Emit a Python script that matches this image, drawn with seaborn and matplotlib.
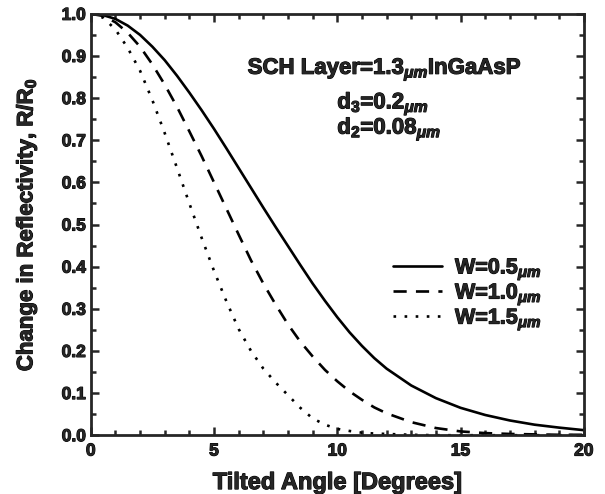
import matplotlib
matplotlib.use("Agg")
import matplotlib.pyplot as plt
import matplotlib.patheffects as pe
import seaborn as sns
import pandas as pd
from matplotlib.ticker import MultipleLocator

angle = [0, 0.5, 1, 1.5, 2, 2.5, 3, 3.5, 4, 4.5, 5, 5.5, 6, 6.5, 7, 7.5,
         8, 8.5, 9, 9.5, 10, 10.5, 11, 11.5, 12, 13, 14, 15, 16, 17, 18, 19, 20]

w05 = [1.000, 0.997, 0.988, 0.972, 0.950, 0.922, 0.890, 0.853, 0.813, 0.771,
       0.727, 0.681, 0.634, 0.587, 0.540, 0.494, 0.449, 0.404, 0.360, 0.319,
       0.280, 0.244, 0.212, 0.183, 0.158, 0.118, 0.088, 0.065, 0.048, 0.035,
       0.025, 0.018, 0.012]

w10 = [1.000, 0.995, 0.980, 0.955, 0.922, 0.880, 0.832, 0.779, 0.721, 0.662,
       0.600, 0.538, 0.476, 0.415, 0.360, 0.310, 0.263, 0.222, 0.187, 0.155,
       0.128, 0.104, 0.084, 0.066, 0.052, 0.031, 0.017, 0.009, 0.005, 0.003,
       0.002, 0.001, 0.001]

w15 = [1.000, 0.991, 0.963, 0.919, 0.865, 0.795, 0.717, 0.634, 0.550, 0.468,
       0.390, 0.318, 0.252, 0.200, 0.158, 0.125, 0.095, 0.065, 0.040, 0.025,
       0.015, 0.010, 0.006, 0.004, 0.003, 0.001, 0.0, 0.0, 0.0, 0.0,
       0.0, 0.0, 0.0]

labels = [r"W=0.5$_{\mu m}$", r"W=1.0$_{\mu m}$", r"W=1.5$_{\mu m}$"]

rows = []
for lab, vals in zip(labels, [w05, w10, w15]):
    for a, v in zip(angle, vals):
        rows.append({"angle": a, "R": v, "W": lab})
df = pd.DataFrame(rows)

sns.set_style("ticks")
plt.rcParams["font.family"] = ["Liberation Sans", "DejaVu Sans"]
plt.rcParams["font.weight"] = "bold"
plt.rcParams["mathtext.fontset"] = "custom"
plt.rcParams["mathtext.rm"] = "Liberation Sans:bold"
plt.rcParams["mathtext.it"] = "Liberation Sans:italic"
plt.rcParams["mathtext.bf"] = "Liberation Sans:bold"

heavy = [pe.withStroke(linewidth=0.8, foreground="black")]

fig = plt.figure(figsize=(6.05, 4.94), dpi=100)
ax = fig.add_axes([0.150, 0.119, 0.815, 0.853])

sns.lineplot(
    data=df, x="angle", y="R", style="W", color="black",
    dashes={labels[0]: "", labels[1]: (5, 3.5), labels[2]: (1, 3.2)},
    linewidth=1.9, ax=ax, legend=True
)

ax.set_xlim(0, 20)
ax.set_ylim(0, 1.0)
ax.xaxis.set_major_locator(MultipleLocator(5))
ax.xaxis.set_minor_locator(MultipleLocator(1))
ax.yaxis.set_major_locator(MultipleLocator(0.1))
ax.yaxis.set_minor_locator(MultipleLocator(0.05))
ax.tick_params(which="both", direction="in", top=True, right=True,
               width=1.8, labelsize=12.5)
ax.tick_params(which="major", length=6)
ax.tick_params(which="minor", length=3.5)
ax.tick_params(axis="x", pad=6)
ax.set_yticklabels([f"{v:.1f}" for v in ax.get_yticks()])
for s in ax.spines.values():
    s.set_linewidth(2)

ax.set_xlabel("Tilted Angle [Degrees]", fontsize=17, fontweight="bold", labelpad=9)
ax.set_ylabel(r"Change in Reflectivity, R/R$_0$", fontsize=16,
              fontweight="bold", labelpad=16)

ax.text(11.93, 0.867, r"SCH Layer=1.3$_{\mu m}$InGaAsP", ha="center",
        va="center", fontsize=16, fontweight="bold")
ax.text(10.0, 0.786, r"d$_3$=0.2$_{\mu m}$", ha="left", va="center",
        fontsize=16, fontweight="bold")
ax.text(10.0, 0.726, r"d$_2$=0.08$_{\mu m}$", ha="left", va="center",
        fontsize=16, fontweight="bold")

leg = ax.legend(loc="upper left", bbox_to_anchor=(0.612, 0.423), frameon=False,
                fontsize=15.5, handlelength=2.3, handletextpad=0.6,
                labelspacing=0.0, borderaxespad=0, borderpad=0)
leg.set_title(None)

for t in ax.texts + leg.get_texts() + ax.get_xticklabels() + ax.get_yticklabels() \
        + [ax.xaxis.label, ax.yaxis.label]:
    t.set_path_effects(heavy)

plt.savefig("out.png", dpi=100)
plt.close()
